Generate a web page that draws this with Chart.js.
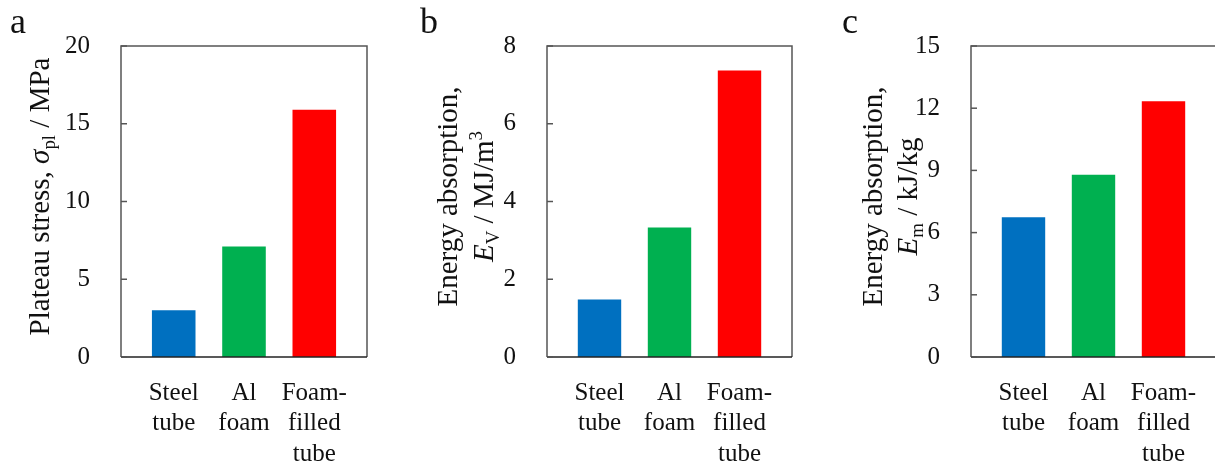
<!DOCTYPE html>
<html>
<head>
<meta charset="utf-8">
<script src="https://cdn.jsdelivr.net/npm/chart.js@4"></script>
<style>
  html, body { margin: 0; padding: 0; background: #fff; }
  body { width: 1215px; height: 468px; overflow: hidden; position: relative; }
  .panel { position: absolute; top: 0; height: 468px; }
  #pa { left: 0; width: 405px; }
  #pb { left: 405px; width: 405px; }
  #pc { left: 810px; width: 420px; }
</style>
</head>
<body>
<div class="panel" id="pa"><canvas id="chartA"></canvas></div>
<div class="panel" id="pb"><canvas id="chartB"></canvas></div>
<div class="panel" id="pc"><canvas id="chartC"></canvas></div>
<script>
// categories (multi-line tick labels)
const categories = [['Steel', 'tube'], ['Al', 'foam'], ['Foam-', 'filled', 'tube']];
const barColors = ['#0070C0', '#00B050', '#FF0000'];

// values
const plateauStress = [3.0, 7.1, 15.9];      // MPa
const energyVolume = [1.48, 3.33, 7.37];     // MJ/m3
const energyMass = [6.74, 8.79, 12.34];      // kJ/kg

const SERIF = "'Liberation Serif', 'Times New Roman', serif";

// draws a line of text made of styled pieces (italic, sub, sup), rotated
function drawRichVertical(ctx, cx, cy, pieces, size) {
    const fontFor = p => {
        const s = (p.sub || p.sup) ? size * 0.65 : size;
        return (p.i ? 'italic ' : '') + s + 'px ' + SERIF;
    };
    let total = 0;
    pieces.forEach(p => { ctx.font = fontFor(p); total += ctx.measureText(p.t).width; });
    ctx.save();
    ctx.translate(cx, cy);
    ctx.rotate(-Math.PI / 2);
    ctx.fillStyle = '#111';
    ctx.textBaseline = 'alphabetic';
    ctx.textAlign = 'left';
    let x = -total / 2;
    const base = size * 0.33;
    pieces.forEach(p => {
        ctx.font = fontFor(p);
        let y = base;
        if (p.sub) y += size * 0.22;
        if (p.sup) y -= size * 0.38;
        ctx.fillText(p.t, x, y);
        x += ctx.measureText(p.t).width;
    });
    ctx.restore();
}

const panelDeco = {
    id: 'panelDeco',
    afterDatasetsDraw(chart, args, opts) {
        const ctx = chart.ctx;
        const area = chart.chartArea;
        const yScale = chart.scales.y;
        const rightEnd = opts.openRight ? area.right + 2 : area.right;
        ctx.save();
        // frame (the last panel is cut off on the right in the original)
        ctx.strokeStyle = '#555';
        ctx.lineWidth = 1.5;
        ctx.beginPath();
        ctx.moveTo(area.left, area.bottom);
        ctx.lineTo(area.left, area.top);
        ctx.lineTo(rightEnd, area.top);
        if (!opts.openRight) {
            ctx.lineTo(area.right, area.bottom);
        }
        ctx.stroke();
        ctx.strokeStyle = '#222';
        ctx.beginPath();
        ctx.moveTo(area.left, area.bottom);
        ctx.lineTo(rightEnd, area.bottom);
        ctx.stroke();
        // inward tick marks
        ctx.strokeStyle = '#555';
        yScale.ticks.forEach((t, i) => {
            const y = yScale.getPixelForTick(i);
            ctx.beginPath();
            ctx.moveTo(area.left, y);
            ctx.lineTo(area.left + 6, y);
            ctx.stroke();
        });
        ctx.restore();
        // axis title lines
        const cy = (area.top + area.bottom) / 2 - 5;
        opts.lines.forEach((line, k) => {
            drawRichVertical(ctx, area.left - opts.offsets[k], cy, line, 29);
        });
        // panel letter
        ctx.save();
        ctx.fillStyle = '#111';
        ctx.font = '36px ' + SERIF;
        ctx.textBaseline = 'alphabetic';
        ctx.fillText(opts.letter, opts.letterX, 33);
        ctx.restore();
    }
};

function makePanel(id, values, yMax, yStep, yWidth, rightPad, deco) {
    new Chart(document.getElementById(id), {
        type: 'bar',
        data: {
            datasets: [{
                data: values.map((v, i) => ({ x: i, y: v })),
                backgroundColor: barColors,
                borderWidth: 0,
                categoryPercentage: 1,
                barPercentage: 0.62
            }]
        },
        options: {
            responsive: true,
            maintainAspectRatio: false,
            animation: false,
            layout: { padding: { left: 0, right: rightPad, top: 46, bottom: 0 } },
            plugins: { legend: { display: false }, tooltip: { enabled: false }, panelDeco: deco },
            scales: {
                x: {
                    type: 'linear',
                    min: -0.75,
                    max: 2.75,
                    offset: false,
                    grid: { display: false, offset: false },
                    border: { display: false },
                    afterBuildTicks: s => { s.ticks = categories.map((c, i) => ({ value: i })); },
                    afterFit: s => { s.height = 111; },
                    ticks: {
                        autoSkip: false,
                        maxRotation: 0,
                        padding: 13,
                        color: '#111',
                        font: { family: SERIF, size: 25, lineHeight: 1.22 },
                        callback: v => categories[v]
                    }
                },
                y: {
                    min: 0,
                    max: yMax,
                    grid: { display: false },
                    border: { display: false },
                    afterFit: s => { s.width = yWidth; },
                    ticks: {
                        stepSize: yStep,
                        padding: 23,
                        color: '#111',
                        font: { family: SERIF, size: 25 }
                    }
                }
            }
        },
        plugins: [panelDeco]
    });
}

makePanel('chartA', plateauStress, 20, 5, 121, 38, {
    letter: 'a', letterX: 10, offsets: [82],
    lines: [[{ t: 'Plateau stress, ' }, { t: 'σ', i: true }, { t: 'pl', sub: true }, { t: ' / MPa' }]]
});
makePanel('chartB', energyVolume, 8, 2, 142, 18, {
    letter: 'b', letterX: 15, offsets: [100, 64],
    lines: [
        [{ t: 'Energy absorption,' }],
        [{ t: 'E', i: true }, { t: 'V', sub: true }, { t: ' / MJ/m' }, { t: '3', sup: true }]
    ]
});
makePanel('chartC', energyMass, 15, 3, 161, 14, {
    letter: 'c', letterX: 32, offsets: [99, 64], openRight: true,
    lines: [
        [{ t: 'Energy absorption,' }],
        [{ t: 'E', i: true }, { t: 'm', sub: true }, { t: ' / kJ/kg' }]
    ]
});
</script>
</body>
</html>
